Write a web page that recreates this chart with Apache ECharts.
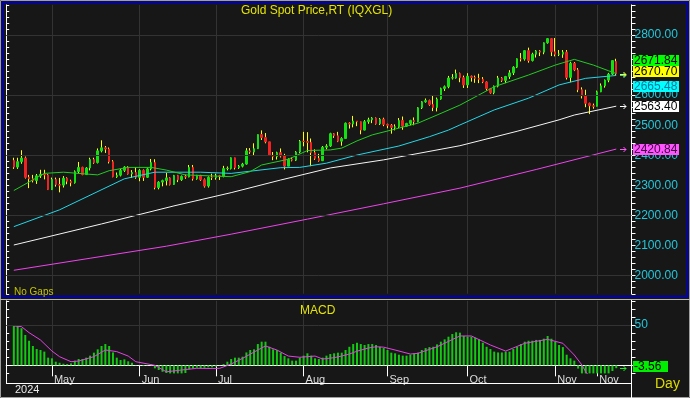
<!DOCTYPE html>
<html>
<head>
<meta charset="utf-8">
<script src="https://cdn.jsdelivr.net/npm/echarts@6/dist/echarts.min.js"></script>
<style>
html,body{margin:0;padding:0;background:#171717;overflow:hidden}
#chart{width:690px;height:398px}
</style>
</head>
<body>
<div id="chart"></div>
<script>
const FONT = '"Liberation Sans", Arial, sans-serif';

const dates = [
'04-17','04-18','04-19','04-22','04-23','04-24','04-25','04-26','04-29','04-30',
'05-01','05-02','05-03','05-06','05-07','05-08','05-09','05-10','05-13','05-14','05-15','05-16','05-17','05-20','05-21','05-22','05-23','05-24','05-27','05-28','05-29','05-30','05-31',
'06-03','06-04','06-05','06-06','06-07','06-10','06-11','06-12','06-13','06-14','06-17','06-18','06-19','06-20','06-21','06-24','06-25','06-26','06-27','06-28',
'07-01','07-02','07-03','07-04','07-05','07-08','07-09','07-10','07-11','07-12','07-15','07-16','07-17','07-18','07-19','07-22','07-23','07-24','07-25','07-26','07-29','07-30','07-31',
'08-01','08-02','08-05','08-06','08-07','08-08','08-09','08-12','08-13','08-14','08-15','08-16','08-19','08-20','08-21','08-22','08-23','08-26','08-27','08-28','08-29','08-30',
'09-02','09-03','09-04','09-05','09-06','09-09','09-10','09-11','09-12','09-13','09-16','09-17','09-18','09-19','09-20','09-23','09-24','09-25','09-26','09-27','09-30',
'10-01','10-02','10-03','10-04','10-07','10-08','10-09','10-10','10-11','10-14','10-15','10-16','10-17','10-18','10-21','10-22','10-23','10-24','10-25','10-28','10-29','10-30','10-31',
'11-01','11-04','11-05','11-06','11-07','11-08','11-11','11-12','11-13','11-14','11-15','11-18','11-19','11-20','11-21','11-22','11-25'];

const openP = [
2383,2361,2379,2391,2327,2322,2316,2332,2337,2335,
2286,2320,2303,2301,2324,2314,2309,2346,2360,2336,2358,2386,2376,2415,2425,2421,2379,2329,2334,2350,2361,2338,2343,
2327,2350,2327,2355,2376,2293,2311,2316,2325,2303,2333,2319,2330,2328,2360,2322,2334,2319,2298,2327,
2326,2332,2330,2356,2356,2392,2359,2364,2371,2415,2411,2422,2469,2459,2445,2400,2396,2409,2398,2364,2387,2384,2411,
2447,2446,2443,2409,2390,2382,2427,2431,2472,2465,2447,2456,2507,2504,2514,2512,2484,2512,2518,2524,2505,2520,
2503,2500,2493,2495,2516,2497,2506,2516,2512,2558,2578,2582,2569,2559,2587,2622,2628,2657,2657,2672,2658,
2634,2663,2659,2656,2653,2644,2622,2608,2630,2657,2649,2662,2674,2693,2721,2720,2748,2715,2736,2747,2743,2774,2788,
2744,2736,2736,2743,2659,2706,2684,2618,2598,2573,2565,2563,2611,2631,2650,2670,2712];

const closeP = [
2361,2379,2391,2327,2322,2316,2332,2337,2335,2286,
2320,2303,2301,2324,2314,2309,2346,2360,2336,2358,2386,2376,2415,2425,2421,2379,2329,2334,2350,2361,2338,2343,2327,
2350,2327,2355,2376,2293,2311,2316,2325,2303,2333,2319,2330,2328,2360,2322,2334,2319,2298,2327,2326,
2332,2330,2356,2357,2392,2359,2364,2371,2415,2411,2422,2469,2459,2445,2400,2396,2409,2398,2364,2387,2384,2411,2447,
2446,2443,2409,2390,2382,2427,2431,2472,2465,2447,2456,2507,2504,2514,2512,2484,2512,2518,2524,2505,2520,2503,
2500,2493,2495,2516,2497,2506,2516,2512,2558,2578,2582,2569,2559,2587,2622,2628,2657,2658,2672,2658,2634,
2663,2659,2656,2653,2644,2622,2608,2630,2657,2649,2662,2674,2693,2721,2720,2748,2715,2736,2747,2743,2774,2788,2744,
2736,2737,2743,2659,2706,2684,2618,2598,2573,2565,2563,2611,2631,2650,2670,2715,2670.70];

const lowP = [
2355,2355,2372,2323,2291,2310,2305,2325,2320,2285,
2285,2296,2277,2293,2304,2297,2306,2340,2334,2335,2350,2372,2373,2410,2408,2373,2327,2325,2330,2345,2336,2325,2322,
2314,2315,2325,2350,2287,2287,2297,2300,2300,2302,2311,2315,2322,2327,2316,2319,2315,2293,2293,2318,
2319,2318,2327,2350,2353,2353,2355,2360,2369,2405,2400,2421,2451,2440,2398,2384,2386,2393,2353,2365,2380,2381,2407,
2430,2410,2364,2385,2379,2381,2420,2428,2458,2444,2432,2456,2489,2493,2497,2470,2483,2505,2507,2502,2501,2497,
2490,2472,2483,2491,2485,2495,2500,2500,2510,2554,2575,2565,2547,2546,2585,2614,2623,2652,2655,2643,2624,
2624,2645,2641,2640,2640,2615,2605,2603,2626,2644,2640,2654,2667,2690,2712,2715,2708,2712,2725,2730,2736,2771,2730,
2729,2730,2724,2652,2643,2680,2610,2589,2560,2537,2555,2563,2610,2625,2643,2667,2667];

const highP = [
2392,2392,2417,2396,2335,2335,2338,2352,2352,2338,
2326,2326,2325,2331,2327,2319,2350,2378,2362,2361,2392,2392,2423,2450,2431,2426,2384,2343,2355,2364,2364,2351,2360,
2354,2353,2359,2388,2387,2314,2319,2342,2327,2335,2335,2333,2336,2368,2368,2335,2335,2323,2330,2339,
2339,2335,2365,2363,2393,2392,2368,2375,2424,2424,2440,2469,2483,2474,2445,2411,2412,2423,2405,2390,2393,2414,2451,
2478,2477,2456,2420,2405,2431,2437,2475,2474,2478,2460,2509,2510,2531,2513,2512,2517,2525,2527,2526,2524,2525,
2505,2504,2503,2524,2529,2508,2518,2526,2560,2580,2589,2585,2600,2592,2625,2632,2664,2670,2685,2675,2665,
2673,2665,2665,2671,2660,2646,2624,2632,2664,2660,2664,2683,2696,2722,2740,2749,2758,2741,2750,2750,2775,2790,2790,
2790,2750,2750,2750,2711,2710,2690,2626,2618,2575,2572,2615,2639,2652,2674,2716,2721];

// moving averages at sample dates
const ma20Dates = ['04-17','04-29','05-06','05-17','05-22','05-29','06-06','06-12','06-19','07-05','07-12','07-17','07-26','08-02','08-12','08-15','08-21','08-27','09-03','09-12','09-19','09-27','10-10','10-23','11-01','11-08','11-15','11-21','11-25'];
const ma20Vals  = [2283,2340,2344,2335,2349,2360,2360,2351,2335,2329,2346,2368,2387,2416,2418,2424,2448,2468,2484,2507,2534,2567,2628,2667,2700,2719,2700,2681,2671.84];
const ma50Dates = ['04-17','05-03','05-28','06-07','06-25','07-05','07-24','07-31','08-09','08-21','09-05','09-17','09-24','09-27','10-10','10-23','11-04','11-13','11-25'];
const ma50Vals  = [2163,2219,2322,2344,2344,2340,2359,2360,2374,2401,2431,2462,2484,2501,2551,2590,2634,2656,2665.48];
const ma100Dates = ['04-17','05-20','06-14','07-05','07-24','08-12','08-30','09-27','10-18','11-04','11-08','11-25'];
const ma100Vals  = [2102,2172,2232,2276,2318,2358,2385,2432,2480,2518,2534,2563.40];
const ma200Dates = ['04-17','05-15','06-12','07-05','08-02','08-30','09-27','10-25','11-25'];
const ma200Vals  = [2018,2058,2098,2138,2188,2239,2291,2353,2420.84];

const macdVals = [
49,48.8,46,37.6,30.5,24,20.2,19,17,9.5,
8.7,4.5,3.2,2,1.6,2.4,5.8,7.8,7.8,9.5,
12,15.7,19.8,24,26.4,24,16,9.5,6.6,7.4,
5,3.2,0.4,0.3,-0.9,0.5,1.6,-3.7,-5.8,-8,
-9.5,-10,-10,-10,-10,-9.5,-5,-4,-3,-3.5,
-3,-2.5,-2.5,-1.5,0.3,1.6,4.5,7.8,9.5,9.5,
10.7,16,19,19.8,26.4,29.3,29.3,23,19.8,19,
15.7,11.5,8.7,5.8,5.8,9.5,12,14.9,12,8.7,
7.8,9.5,12,14,14.9,15.7,15.7,19,23,26.4,
28,26.4,25.2,26.4,26.4,25.2,23,21.4,19,15.7,
14.9,13.2,12,12,13.2,14.9,15.7,19,21.4,22.6,
23,26,29.3,32.2,35.5,38.8,41,40.5,36.4,35.5,
35.5,34.3,32.2,28,23,20.2,17,16,16,17,
17,20.2,23,26.4,29.3,30.5,30.5,31.5,31.5,33,
36.4,33,29.3,25.2,22.6,13.2,8.7,5.8,-4,-12,
-18,-22,-24,-22,-19,-15,-11,-7,-3.56];

const sigDates = ['04-17','04-19','04-23','04-26','05-01','05-03','05-08','05-10','05-16','05-21','05-24','05-29','05-31','06-07','06-12','06-18','06-24','06-28','07-02','07-05','07-10','07-16','07-18','07-23','07-26','07-31','08-06','08-08','08-13','08-15','08-19','08-21','08-26','08-28','08-30','09-04','09-10','09-12','09-19','09-27','10-02','10-09','10-15','10-22','10-30','11-05','11-08','11-12','11-13','11-14','11-15'];
const sigVals  = [48.8,48,40.5,31.4,17.7,10.7,4.5,5.3,10.7,19,17,11.5,4.5,0,-8,-5.8,-3.7,-4,-3.7,1.6,8.7,19,24,19,11.5,10,11.5,7.8,9.5,11.5,14,17.5,21.5,23,22.5,19,14,14.9,23,36.4,36.4,25.2,17.7,27.3,32.2,27.3,12.8,0.4,-8,-14,-20];

const monthTickDates  = ['05-01','06-03','07-01','08-01','09-02','10-01','11-01','11-18'];
const monthTickLabels = ['May','Jun','Jul','Aug','Sep','Oct','Nov','Nov'];
const priceGridLevels = [2000,2200,2400,2600,2800];

const cats = ['s1','s2'].concat(dates, ['e1','e2','e3','e4']);
const rowsAll  = dates.map((d,i)=>[d, openP[i], closeP[i], lowP[i], highP[i]]);
const rowsBody = dates.map((d,i)=>[d, openP[i], closeP[i], Math.min(openP[i],closeP[i]), Math.max(openP[i],closeP[i])]);
const pairs = (ds, vs) => ds.map((d,i)=>[d, vs[i]]);
const isTick = (i, v) => monthTickDates.indexOf(v) >= 0;

const chart = echarts.init(document.getElementById('chart'), null, {width:690, height:398});
const GRIDC = '#333333';

chart.setOption({
  animation: false,
  backgroundColor: '#171717',
  textStyle: {fontFamily: FONT},
  grid: [
    {left: 6.2, right: 58.5, top: 4.9, height: 288.85},
    {left: 6.2, right: 58.5, top: 300.8, height: 72.6}
  ],
  dataset: [{source: rowsAll}, {source: rowsBody}],
  xAxis: [
    {type:'category', gridIndex:0, data:cats, boundaryGap:false,
     axisLine:{show:false}, axisTick:{show:false}, axisLabel:{show:false},
     splitLine:{show:true, interval:isTick, lineStyle:{color:GRIDC, width:1}}},
    {type:'category', gridIndex:1, data:cats, boundaryGap:false,
     axisLine:{show:true, lineStyle:{color:'#ffffff', width:1}},
     axisTick:{show:true, interval:isTick, length:11, lineStyle:{color:'#ffffff'}},
     axisLabel:{show:true, interval:isTick, formatter:v => monthTickLabels[monthTickDates.indexOf(v)] || '',
       color:'#dcdcdc', fontSize:11, fontFamily:FONT, align:'left', verticalAlign:'top', margin:1, padding:[0,0,0,2]},
     splitLine:{show:true, interval:isTick, lineStyle:{color:GRIDC, width:1}}}
  ],
  yAxis: [
    {type:'value', gridIndex:0, position:'right', min:1940, max:2900, interval:20,
     axisLine:{show:true, lineStyle:{color:'#ffffff'}}, axisTick:{show:true, length:4, lineStyle:{color:'#ffffff'}},
     axisLabel:{color:'#22c8dc', fontSize:12, fontFamily:FONT, margin:3,
       formatter:v => (v % 100 === 0 && v >= 2000 && v <= 2800) ? v.toFixed(2) : ''},
     splitLine:{show:false}},
    {type:'value', gridIndex:0, position:'left', min:1940, max:2900, interval:20,
     axisLine:{show:true, lineStyle:{color:'#ffffff'}}, axisTick:{show:true, inside:true, length:3, lineStyle:{color:'#ffffff'}},
     axisLabel:{show:false}, splitLine:{show:false}},
    {type:'value', gridIndex:1, position:'right', min:-10, max:80, interval:10,
     axisLine:{show:true, lineStyle:{color:'#ffffff'}}, axisTick:{show:true, length:4, lineStyle:{color:'#ffffff'}},
     axisLabel:{color:'#22c8dc', fontSize:12, fontFamily:FONT, margin:3, formatter:v => v === 50 ? '50' : ''},
     splitLine:{show:false}},
    {type:'value', gridIndex:1, position:'left', min:-10, max:80, interval:10,
     axisLine:{show:true, lineStyle:{color:'#ffffff'}}, axisTick:{show:true, inside:true, length:3, lineStyle:{color:'#ffffff'}},
     axisLabel:{show:false}, splitLine:{show:false}}
  ],
  series: [
    {type:'line', xAxisIndex:0, yAxisIndex:0, data:[], z:1, silent:true,
     markLine:{silent:true, symbol:'none', label:{show:false}, lineStyle:{color:GRIDC, type:'solid', width:1},
       data: priceGridLevels.map(v => ({yAxis:v}))}},
    {type:'line', xAxisIndex:1, yAxisIndex:2, data:[], z:1, silent:true,
     markLine:{silent:true, symbol:'none', label:{show:false}, lineStyle:{color:GRIDC, type:'solid', width:1},
       data:[{yAxis:50}]}},
    {name:'MA200', type:'line', xAxisIndex:0, yAxisIndex:0, data:pairs(ma200Dates, ma200Vals), symbol:'none', silent:true,
     lineStyle:{color:'#ee44ee', width:1}},
    {name:'MA100', type:'line', xAxisIndex:0, yAxisIndex:0, data:pairs(ma100Dates, ma100Vals), symbol:'none', silent:true,
     lineStyle:{color:'#f4f4f4', width:1}},
    {name:'MA50', type:'line', xAxisIndex:0, yAxisIndex:0, data:pairs(ma50Dates, ma50Vals), symbol:'none', silent:true,
     lineStyle:{color:'#22d8e8', width:1}},
    {name:'MA20', type:'line', xAxisIndex:0, yAxisIndex:0, data:pairs(ma20Dates, ma20Vals), symbol:'none', silent:true,
     lineStyle:{color:'#22cc22', width:1}},
    {name:'wick', type:'candlestick', xAxisIndex:0, yAxisIndex:0, datasetIndex:0, encode:{x:0, y:[1,2,3,4]},
     barWidth:1, silent:true,
     itemStyle:{color:'#ffff00', color0:'#ffff00', borderColor:'#ffff00', borderColor0:'#ffff00', borderColorDoji:'#ffff00', borderWidth:1}},
    {name:'body', type:'candlestick', xAxisIndex:0, yAxisIndex:0, datasetIndex:1, encode:{x:0, y:[1,2,3,4]},
     barWidth:2, silent:true,
     itemStyle:{color:'#12e012', color0:'#f02222', borderColor:'#12e012', borderColor0:'#f02222', borderColorDoji:'#12e012', borderWidth:1}},
    {name:'MACD', type:'bar', xAxisIndex:1, yAxisIndex:2, data:pairs(dates, macdVals), barWidth:2, silent:true,
     itemStyle:{color:'#14c814'}},
    {name:'Signal', type:'line', xAxisIndex:1, yAxisIndex:2, data:pairs(sigDates, sigVals), symbol:'none', silent:true,
     lineStyle:{color:'#e244e2', width:1}}
  ]
});

// overlays: frame, texts, value tags
const yP = v => chart.convertToPixel({yAxisIndex:0}, v);
const yM = v => chart.convertToPixel({yAxisIndex:2}, v);
const lastClose = closeP[closeP.length-1];
const lastMA20 = ma20Vals[ma20Vals.length-1];
const lastMA50 = ma50Vals[ma50Vals.length-1];
const lastMA100 = ma100Vals[ma100Vals.length-1];
const lastMA200 = ma200Vals[ma200Vals.length-1];
const lastMACD = macdVals[macdVals.length-1];

function tag(x, yc, w, text, bg, fg, zz) {
  const top = Math.round(yc - 5.5);
  return [
    {type:'rect', z:zz, shape:{x:x, y:top, width:w, height:11}, style:{fill:bg}},
    {type:'text', z:zz+1, x:x+1, y:top+6, style:{text:text, fill:fg, font:'12px '+FONT, align:'left', verticalAlign:'middle'}}
  ];
}
function arrow(x, y, color) {
  y = Math.round(y) + 0.5;
  return [
    {type:'polyline', z:200, shape:{points:[[x,y],[x+6,y]]}, style:{stroke:color, lineWidth:1, fill:null}},
    {type:'polyline', z:200, shape:{points:[[x+3.5,y-2.5],[x+6,y],[x+3.5,y+2.5]]}, style:{stroke:color, lineWidth:1, fill:null}}
  ];
}
function line(x1,y1,x2,y2,color,w) {
  return {type:'line', z:150, shape:{x1,y1,x2,y2}, style:{stroke:color, lineWidth:w||1}};
}
function txt(x, y, s, size, color) {
  return {type:'text', z:200, x:x, y:y, style:{text:s, fill:color, font:size+'px '+FONT, align:'left', verticalAlign:'middle'}};
}

const yc = yP(lastClose);
const g = [].concat(
  [
    {type:'rect', z:150, shape:{x:0.5, y:0.5, width:689, height:397}, style:{stroke:'#a0a0a0', fill:null, lineWidth:1}},
    {type:'rect', z:150, shape:{x:2.5, y:2.5, width:685, height:294}, style:{stroke:'#0000b4', fill:null, lineWidth:2}},
    line(0, 299.5, 690, 299.5, '#b8b8b8', 1),
    line(631.5, 300, 631.5, 398, '#ffffff', 1),
    line(6.5, 373, 6.5, 384, '#ffffff', 1),
    line(6, 383.5, 632, 383.5, '#ffffff', 1),
    txt(241, 11, 'Gold Spot Price,RT (IQXGL)', 12, '#e4e400'),
    txt(14, 292, 'No Gaps', 10, '#c4c400'),
    txt(300, 311, 'MACD', 12, '#e4e400'),
    txt(15, 390, '2024', 11, '#ececec'),
    txt(655, 384, 'Day', 14, '#dcdc00')
  ],
  arrow(620, yP(lastMA50), '#22d8e8'),
  arrow(620, yc, '#ffff00'),
  arrow(620, yP(lastMA100), '#ffffff'),
  arrow(620, yP(lastMA200), '#ff55ff'),
  arrow(620, yM(lastMACD), '#22ee22'),
  tag(633, yc - 13, 46, lastMA20.toFixed(2), '#00ff00', '#000000', 210),
  tag(633, yc - 2, 46, lastClose.toFixed(2), '#ffff00', '#000000', 220),
  tag(633, yc + 13, 46, lastMA50.toFixed(2), '#00ffff', '#0078a0', 230),
  tag(633, yP(lastMA100), 46, lastMA100.toFixed(2), '#ffffff', '#000000', 240),
  tag(633, yP(lastMA200), 46, lastMA200.toFixed(2), '#ff55ff', '#400040', 250),
  tag(633, yM(lastMACD) - 1.5, 35, lastMACD.toFixed(2), '#00ee00', '#000000', 260)
);
chart.setOption({graphic: g});
</script>
</body>
</html>
